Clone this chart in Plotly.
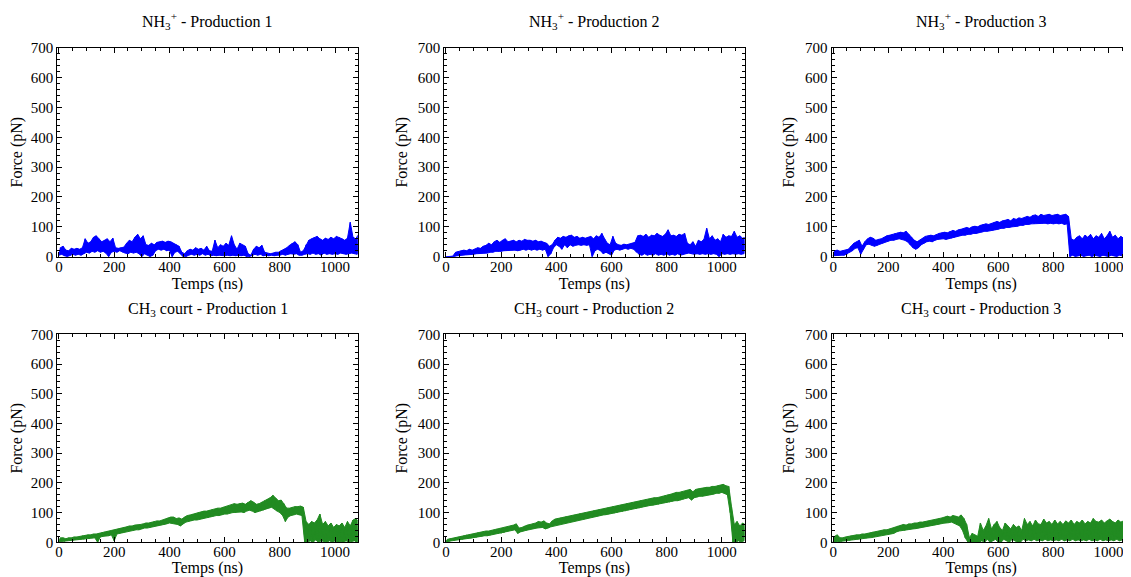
import plotly.graph_objects as go
from plotly.subplots import make_subplots

# time grid (ns), one reading every 10 ns
TIME = list(range(0, 1090, 10))

TITLES = ["NH<sub>3</sub><sup>+</sup> - Production 1",
          "NH<sub>3</sub><sup>+</sup> - Production 2",
          "NH<sub>3</sub><sup>+</sup> - Production 3",
          "CH<sub>3</sub> court - Production 1",
          "CH<sub>3</sub> court - Production 2",
          "CH<sub>3</sub> court - Production 3"]

# upper / lower edge of the noisy force band (pN), read every 10 ns
NH3_P1_HI = [30, 35, 22, 20, 28, 25, 28, 25, 30, 60,
             45, 50, 65, 70, 60, 50, 55, 60, 50, 62,
             30, 28, 30, 32, 45, 55, 50, 65, 75, 60,
             70, 40, 38, 45, 40, 48, 50, 52, 48, 52,
             50, 45, 40, 35, 15, 10, 20, 25, 22, 30,
             25, 28, 22, 35, 20, 18, 55, 30, 40, 35,
             45, 38, 70, 40, 25, 45, 40, 35, 10, 5,
             25, 35, 30, 38, 15, 12, 10, 12, 15, 15,
             20, 25, 30, 38, 45, 50, 40, 15, 20, 40,
             55, 60, 65, 68, 60, 55, 62, 58, 65, 60,
             68, 65, 60, 55, 62, 115, 65, 60, 75]
NH3_P1_LO = [5, 8, 3, 0, 5, 8, 5, 8, 5, 10,
             15, 12, 18, 15, 20, 15, 18, 12, 0, 15,
             18, 15, 20, 15, 12, 10, 15, 12, 15, 10,
             0, 10, 5, 0, 5, 20, 25, 22, 25, 20,
             22, 0, 15, 18, 10, 0, 0, 5, 8, 5,
             8, 5, 10, 5, 8, 3, 5, 3, 5, 5,
             3, 5, 3, 5, 3, 5, 3, 5, 0, 0,
             5, 8, 5, 8, 3, 5, 3, 5, 3, 5,
             5, 8, 5, 8, 10, 8, 10, 5, 5, 8,
             10, 8, 12, 8, 10, 5, 12, 8, 10, 8,
             10, 8, 12, 10, 8, 10, 12, 10, 8]

NH3_P2_HI = [0, 0, 2, 15, 18, 20, 22, 20, 25, 22,
             25, 30, 28, 35, 38, 45, 40, 50, 55, 48,
             55, 60, 50, 52, 55, 50, 55, 52, 58, 55,
             55, 52, 55, 50, 52, 48, 45, 35, 40, 55,
             65, 62, 68, 65, 70, 72, 65, 68, 62, 65,
             62, 65, 68, 60, 70, 65, 78, 60, 45, 40,
             68, 45, 40, 38, 42, 40, 42, 45, 48, 70,
             72, 68, 75, 65, 72, 70, 78, 72, 68, 75,
             90, 70, 72, 68, 75, 72, 78, 45, 40, 50,
             35, 55, 50, 58, 95, 60, 70, 55, 60, 50,
             75, 65, 70, 68, 85, 65, 70, 62, 65]
NH3_P2_LO = [0, 0, 0, 0, 3, 5, 5, 6, 8, 8,
             8, 10, 10, 12, 12, 12, 15, 15, 18, 18,
             18, 20, 20, 22, 22, 22, 20, 22, 25, 22,
             25, 22, 25, 22, 25, 22, 25, 0, 10, 30,
             40, 35, 25, 40, 30, 40, 35, 38, 40, 38,
             40, 38, 40, 0, 20, 25, 20, 10, 15, 10,
             5, 22, 25, 22, 25, 28, 25, 28, 25, 15,
             8, 5, 10, 5, 8, 5, 10, 5, 8, 5,
             10, 5, 8, 5, 10, 5, 8, 10, 12, 10,
             8, 10, 8, 10, 8, 10, 8, 10, 8, 0,
             10, 8, 10, 8, 10, 8, 10, 8, 10]

NH3_P3_HI = [20, 22, 18, 20, 22, 25, 35, 45, 50, 55,
             35, 50, 60, 65, 62, 55, 58, 60, 65, 70,
             72, 75, 78, 80, 82, 80, 85, 75, 65, 55,
             50, 55, 62, 68, 70, 72, 70, 75, 78, 80,
             82, 80, 85, 88, 85, 90, 92, 95, 98, 95,
             100, 102, 100, 105, 108, 110, 108, 112, 115, 118,
             115, 120, 122, 125, 120, 128, 125, 130, 128, 132,
             135, 132, 138, 140, 135, 142, 138, 140, 142, 138,
             140, 142, 138, 140, 142, 135, 60, 55, 65, 70,
             60, 72, 65, 75, 60, 70, 65, 78, 60, 70,
             85, 65, 72, 60, 68, 62, 70, 60, 65]
NH3_P3_LO = [3, 5, 5, 5, 5, 8, 15, 20, 28, 30,
             8, 25, 40, 42, 38, 35, 38, 42, 45, 50,
             52, 55, 55, 58, 60, 58, 55, 50, 40, 30,
             25, 30, 40, 45, 50, 52, 50, 55, 58, 60,
             60, 58, 62, 62, 65, 68, 70, 72, 72, 75,
             75, 78, 78, 80, 82, 85, 85, 88, 88, 90,
             92, 95, 95, 98, 98, 100, 102, 102, 105, 105,
             108, 108, 110, 110, 112, 110, 112, 112, 110, 112,
             110, 112, 110, 112, 108, 110, 0, 5, 0, 3,
             5, 0, 3, 5, 0, 5, 3, 0, 5, 3,
             0, 5, 3, 0, 5, 3, 0, 5, 3]

CH3_P1_HI = [15, 15, 12, 15, 15, 18, 18, 20, 22, 22,
             25, 25, 28, 28, 30, 32, 35, 38, 38, 40,
             42, 45, 48, 50, 52, 55, 55, 58, 58, 60,
             62, 65, 65, 68, 70, 72, 72, 75, 78, 82,
             85, 85, 80, 82, 78, 85, 90, 92, 95, 98,
             100, 102, 105, 105, 108, 110, 112, 115, 115, 118,
             120, 122, 125, 130, 128, 130, 132, 128, 135, 140,
             135, 128, 130, 135, 140, 145, 150, 158, 148, 140,
             142, 130, 115, 115, 118, 120, 120, 122, 118, 70,
             60, 70, 65, 75, 95, 60, 70, 55, 65, 50,
             60, 55, 65, 50, 70, 55, 75, 80, 70]
CH3_P1_LO = [3, 3, 3, 5, 5, 5, 8, 8, 10, 10,
             12, 12, 14, 15, 0, 18, 20, 22, 22, 25,
             5, 28, 30, 32, 35, 38, 38, 40, 42, 42,
             45, 48, 48, 50, 52, 55, 55, 58, 60, 62,
             65, 65, 62, 60, 55, 62, 68, 70, 72, 75,
             75, 78, 80, 82, 82, 85, 88, 90, 90, 92,
             95, 95, 98, 100, 100, 102, 102, 100, 105, 108,
             105, 100, 102, 105, 108, 112, 115, 118, 112, 105,
             100, 90, 70, 85, 90, 92, 95, 92, 90, 0,
             0, 5, 0, 8, 0, 5, 3, 0, 5, 0,
             5, 0, 3, 0, 5, 0, 3, 5, 0]

CH3_P2_HI = [10, 12, 14, 16, 18, 20, 22, 25, 26, 28,
             30, 32, 34, 35, 38, 38, 40, 42, 45, 46,
             48, 50, 52, 55, 58, 62, 48, 50, 55, 58,
             60, 62, 65, 70, 68, 72, 65, 62, 72, 78,
             80, 82, 84, 86, 88, 90, 92, 95, 96, 98,
             100, 102, 105, 106, 108, 110, 112, 115, 116, 118,
             120, 122, 125, 126, 128, 130, 132, 135, 136, 138,
             140, 142, 145, 146, 148, 150, 150, 152, 155, 158,
             160, 162, 165, 168, 168, 170, 172, 175, 178, 170,
             178, 180, 182, 182, 185, 185, 188, 188, 190, 192,
             195, 190, 188, 120, 60, 70, 55, 65, 60]
CH3_P2_LO = [2, 3, 5, 6, 8, 8, 10, 12, 13, 14,
             15, 17, 18, 20, 22, 22, 24, 26, 28, 30,
             30, 32, 35, 38, 40, 42, 30, 35, 38, 40,
             42, 45, 46, 48, 50, 50, 45, 48, 52, 55,
             58, 60, 62, 64, 66, 68, 70, 72, 74, 76,
             78, 80, 82, 84, 85, 88, 90, 92, 93, 95,
             96, 98, 100, 102, 104, 105, 108, 110, 112, 114,
             115, 118, 120, 122, 124, 125, 126, 128, 130, 132,
             133, 135, 138, 140, 140, 142, 145, 148, 150, 142,
             150, 152, 155, 155, 158, 160, 160, 162, 165, 165,
             168, 165, 160, 100, 0, 0, 5, 0, 5]

CH3_P3_HI = [20, 25, 15, 15, 18, 20, 22, 22, 25, 25,
             28, 28, 30, 32, 35, 35, 38, 40, 42, 42,
             45, 48, 50, 55, 58, 60, 58, 62, 62, 65,
             65, 68, 68, 70, 72, 72, 75, 78, 80, 82,
             85, 88, 85, 90, 88, 85, 92, 80, 60, 15,
             30, 25, 20, 65, 40, 55, 80, 45, 60, 70,
             50, 40, 65, 55, 45, 60, 50, 55, 40, 80,
             60, 70, 55, 75, 62, 60, 78, 65, 70, 60,
             75, 62, 70, 60, 72, 65, 75, 60, 70, 65,
             75, 62, 70, 65, 80, 70, 68, 75, 65, 72,
             78, 70, 65, 75, 68, 72, 85, 70, 75]
CH3_P3_LO = [0, 2, 3, 3, 5, 5, 6, 8, 8, 10,
             10, 12, 14, 15, 16, 18, 20, 22, 24, 25,
             26, 28, 30, 35, 38, 40, 40, 42, 44, 45,
             46, 48, 50, 52, 54, 55, 56, 58, 60, 62,
             64, 66, 66, 68, 65, 60, 55, 40, 15, 0,
             0, 0, 0, 0, 5, 0, 10, 0, 5, 10,
             0, 0, 10, 5, 0, 10, 5, 0, 0, 10,
             5, 8, 5, 10, 5, 8, 5, 10, 5, 8,
             5, 8, 5, 10, 5, 8, 5, 10, 5, 8,
             5, 8, 5, 10, 5, 8, 5, 10, 5, 8,
             5, 8, 5, 10, 5, 8, 5, 10, 5]

SERIES = [(NH3_P1_LO, NH3_P1_HI), (NH3_P2_LO, NH3_P2_HI), (NH3_P3_LO, NH3_P3_HI),
          (CH3_P1_LO, CH3_P1_HI), (CH3_P2_LO, CH3_P2_HI), (CH3_P3_LO, CH3_P3_HI)]
COLORS = ["#0000FF"] * 3 + ["#228B22"] * 3

X_TICKS = [0, 200, 400, 600, 800, 1000]
Y_TICKS = [0, 100, 200, 300, 400, 500, 600, 700]

# the page body has an 8 px margin, so the figure starts at (8, 8)
OFF = 8
WIN_W, WIN_H = 1131, 577
W, H = WIN_W - OFF, WIN_H - OFF
FONT = "Liberation Serif, Times New Roman, serif"

fig = make_subplots(rows=2, cols=3)

for k, (lo, hi) in enumerate(SERIES):
    r, c = k // 3 + 1, k % 3 + 1
    # filled band between the lower and upper edges
    bx = [t + 5 for t in TIME] + [t for t in TIME][::-1]
    by = list(hi) + list(lo)[::-1]
    fig.add_trace(go.Scatter(x=bx, y=by, mode="lines", fill="toself",
                             fillcolor=COLORS[k],
                             line=dict(color=COLORS[k], width=1),
                             showlegend=False, hoverinfo="skip"), row=r, col=c)
    # jagged trace between the edges
    xs, ys = [], []
    for t, a, b in zip(TIME, lo, hi):
        xs += [t, t + 5]
        ys += [a, b]
    fig.add_trace(go.Scatter(x=xs, y=ys, mode="lines",
                             line=dict(color=COLORS[k], width=1),
                             showlegend=False, hoverinfo="skip"), row=r, col=c)

# target page pixel positions of the plot frames
col_px = [(57.3, 357.7), (444.3, 744.5), (831.5, 1131)]
row_px = [(47.7, 256.7), (334.3, 542.3)]
title_y_px = [21, 310]

axis_common = dict(showline=True, linecolor="black", linewidth=1, mirror="ticks",
                   ticks="inside", ticklen=5, tickwidth=1, tickcolor="black",
                   showgrid=False, zeroline=False, automargin=False,
                   tickfont=dict(family=FONT, size=15, color="black"),
                   title_font=dict(family=FONT, size=16, color="black"))

for k in range(6):
    r, c = k // 3, k % 3
    idx = "" if k == 0 else str(k + 1)
    x0, x1 = col_px[c][0] - OFF, min(col_px[c][1] - OFF, W)
    y0, y1 = row_px[r][0] - OFF, row_px[r][1] - OFF
    fig.layout["xaxis" + idx].update(
        domain=[x0 / W, x1 / W], range=[-6, 1082],
        tickvals=X_TICKS, ticktext=[str(v) for v in X_TICKS],
        ticklabelstandoff=-4,
        minor=dict(dtick=50, ticks="inside", ticklen=3, tickcolor="black", showgrid=False),
        title=dict(text="Temps (ns)", standoff=1), **axis_common)
    fig.layout["yaxis" + idx].update(
        domain=[1 - y1 / H, 1 - y0 / H], range=[0, 700],
        tickvals=Y_TICKS, ticktext=[str(v) for v in Y_TICKS],
        minor=dict(dtick=20, ticks="inside", ticklen=3, tickcolor="black", showgrid=False),
        title=dict(text="Force (pN)", standoff=6), **axis_common)
    fig.add_annotation(text=TITLES[k], x=(x0 + x1) / 2 / W, y=1 - (title_y_px[r] - OFF) / H,
                       xref="paper", yref="paper", xanchor="center", yanchor="middle",
                       showarrow=False, font=dict(family=FONT, size=16, color="black"))

fig.update_layout(width=W, height=H, autosize=False,
                  margin=dict(l=0, r=0, t=0, b=0, pad=0),
                  paper_bgcolor="white", plot_bgcolor="white")

fig.write_html("out.html")
